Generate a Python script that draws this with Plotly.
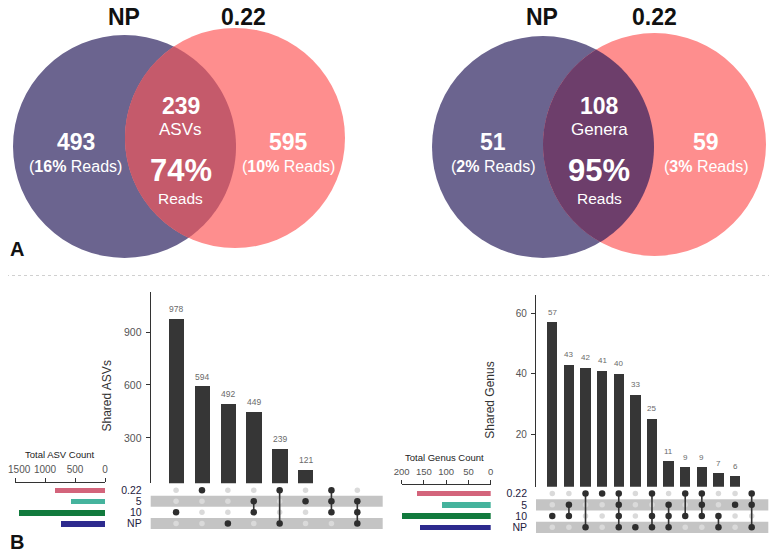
import numpy as np
import plotly.graph_objects as go

W, H = 777, 551
OFF = 8  # page body margin compensation
FONT = "Liberation Sans, Arial, sans-serif"

# ---------------- DATA ----------------
venn_sets = ["NP", "0.22"]
asv_counts = [493, 239, 595]          # NP only, shared, 0.22 only
asv_reads = ["16%", "74%", "10%"]
genus_counts = [51, 108, 59]
genus_reads = ["2%", "95%", "3%"]

set_names = ["0.22", "5", "10", "NP"]
asv_set_sizes = [834, 572, 1429, 732]
asv_size_ticks = [0, 500, 1000, 1500]
asv_inter_values = [978, 594, 492, 449, 239, 121, 1, 1]
asv_inter_members = [["10"], ["0.22"], ["NP"], ["5", "10"], ["0.22", "NP"], ["5"],
                     ["0.22", "5", "10"], ["5", "10", "NP"]]

genus_set_sizes = [167, 110, 201, 159]
genus_size_ticks = [0, 50, 100, 150, 200]
genus_inter_values = [57, 43, 42, 41, 40, 33, 25, 11, 9, 9, 7, 6, 1]
genus_inter_members = [["10"], ["5", "10"], ["0.22", "NP"], ["0.22"],
                       ["0.22", "5", "10", "NP"], ["NP"], ["0.22", "10", "NP"],
                       ["5", "10", "NP"], ["0.22", "10"], ["0.22", "5", "10"],
                       ["10", "NP"], ["5"], ["0.22", "5", "NP"]]

set_colors = ["#d3647b", "#45b39d", "#117a3d", "#2d2a8e"]
NP_COL = "#6b648f"
PINK_COL = "#fe8e8e"


def fx(px):
    return (px - OFF) / W


def fy(py):
    return 1 - (py - OFF) / H


fig = go.Figure()
shapes = []
annotations = []


def ann(**kw):
    kw.setdefault("showarrow", False)
    kw.setdefault("xanchor", "center")
    kw.setdefault("yanchor", "middle")
    annotations.append(kw)


# ---------------- VENN (pixel axis x9/y9) ----------------
def lens_path(c1, r1, c2, r2, n=60):
    (x1, y1), (x2, y2) = c1, c2
    d = np.hypot(x2 - x1, y2 - y1)
    a = (r1**2 - r2**2 + d**2) / (2 * d)
    h = np.sqrt(r1**2 - a**2)
    ux, uy = (x2 - x1) / d, (y2 - y1) / d
    mx, my = x1 + a * ux, y1 + a * uy
    p1 = (mx - h * uy, my + h * ux)
    p2 = (mx + h * uy, my - h * ux)

    def arc(cx, cy, r, pa, pb, toward):
        t1 = np.arctan2(pa[1] - cy, pa[0] - cx)
        t2 = np.arctan2(pb[1] - cy, pb[0] - cx)
        tm = np.arctan2(toward[1] - cy, toward[0] - cx)
        dt = (t2 - t1) % (2 * np.pi)
        if ((tm - t1) % (2 * np.pi)) > dt:
            dt = -((t1 - t2) % (2 * np.pi))
        ts = t1 + np.linspace(0, dt, n)
        return [(cx + r * np.cos(t), cy + r * np.sin(t)) for t in ts]

    pts = arc(x1, y1, r1, p1, p2, (x2, y2)) + arc(x2, y2, r2, p2, p1, (x1, y1))
    return "M " + " L ".join(f"{x:.2f},{y:.2f}" for x, y in pts) + " Z"


def venn(cnp, rnp, cpk, rpk, overlap_col, counts, reads, mid_label, headers_x, pos):
    shapes.append(dict(type="circle", xref="x9", yref="y9", x0=cnp[0] - rnp, x1=cnp[0] + rnp,
                       y0=cnp[1] - rnp, y1=cnp[1] + rnp, fillcolor=NP_COL, line=dict(width=0),
                       layer="below"))
    shapes.append(dict(type="circle", xref="x9", yref="y9", x0=cpk[0] - rpk, x1=cpk[0] + rpk,
                       y0=cpk[1] - rpk, y1=cpk[1] + rpk, fillcolor=PINK_COL, line=dict(width=0),
                       layer="below"))
    shapes.append(dict(type="path", xref="x9", yref="y9", path=lens_path(cnp, rnp, cpk, rpk),
                       fillcolor=overlap_col, line=dict(width=0), layer="below"))
    for name, hx in zip(venn_sets, headers_x):
        ann(x=hx, y=17, xref="x9", yref="y9", text=f"<b>{name}</b>",
            font=dict(size=23, color="#111"))
    (lx, rx, mx) = pos
    ann(x=lx, y=142, xref="x9", yref="y9", text=f"<b>{counts[0]}</b>",
        font=dict(size=23, color="white"))
    ann(x=lx, y=166, xref="x9", yref="y9", text=f"(<b>{reads[0]}</b> Reads)",
        font=dict(size=16, color="white"))
    ann(x=rx, y=142, xref="x9", yref="y9", text=f"<b>{counts[2]}</b>",
        font=dict(size=23, color="white"))
    ann(x=rx, y=166, xref="x9", yref="y9", text=f"(<b>{reads[2]}</b> Reads)",
        font=dict(size=16, color="white"))
    ann(x=mx, y=106, xref="x9", yref="y9", text=f"<b>{counts[1]}</b>",
        font=dict(size=23, color="white"))
    ann(x=mx, y=129, xref="x9", yref="y9", text=mid_label, font=dict(size=17, color="white"))
    ann(x=mx, y=170, xref="x9", yref="y9", text=f"<b>{reads[1]}</b>",
        font=dict(size=31, color="white"))
    ann(x=mx, y=198, xref="x9", yref="y9", text="Reads", font=dict(size=15.5, color="white"))


venn((124.5, 146.5), 111.5, (235, 138), 110, "#c55a6b", asv_counts, asv_reads, "ASVs",
     (123.5, 243.5), (75.5, 288, 180.5))
venn((543, 147), 111, (654.5, 144.5), 111.5, "#6d3e6b", genus_counts, genus_reads, "Genera",
     (541.5, 654.5), (492.5, 705.5, 599))

ann(x=17, y=249, xref="x9", yref="y9", text="<b>A</b>", font=dict(size=20, color="#111"))
ann(x=17, y=542, xref="x9", yref="y9", text="<b>B</b>", font=dict(size=20, color="#111"))
shapes.append(dict(type="line", xref="x9", yref="y9", x0=0, x1=W + OFF, y0=275.5, y1=275.5,
                   line=dict(color="#d0d0d0", width=1, dash="dot")))

fig.add_trace(go.Scatter(x=[OFF + 1], y=[OFF + 1], xaxis="x9", yaxis="y9", mode="markers",
                         marker=dict(opacity=0), hoverinfo="skip", showlegend=False))


# ---------------- UPSET ----------------
def upset(idx, values, members, sizes, bar_dom, bar_rng, col_dom, xrng, mat_dom, bar_w,
          yticks, ytickfont, size_dom, size_rng, size_ticks, size_ticktext, size_line_y,
          size_tickfont, size_title, size_title_xy, ytitle, ytitle_xy, lab_font, lab_shift):
    xb, yb = f"x{idx}", f"y{idx}"
    xm, ym = f"x{idx+1}", f"y{idx+1}"
    xs, ys = f"x{idx+2}", f"y{idx+2}"
    n = len(values)
    cols = list(range(n))
    fig.add_trace(go.Bar(x=cols, y=values, xaxis=xb, yaxis=yb, marker=dict(color="#363636",
                         line=dict(width=0)), width=bar_w, showlegend=False, hoverinfo="skip"))
    for c, v in zip(cols, values):
        ann(x=c, y=v, xref=xb, yref=yb, text=str(v), yshift=lab_shift,
            font=dict(size=lab_font, color="#6a6a6a"))
    ridx = {s: i for i, s in enumerate(set_names)}
    for r in (1, 3):
        shapes.append(dict(type="rect", xref=f"{xm} domain", yref=ym, x0=0, x1=1,
                           y0=r - 0.5, y1=r + 0.5, fillcolor="#c4c4c4", line=dict(width=0),
                           layer="below"))
    gx, gy, bx, by = [], [], [], []
    lx, ly = [], []
    for c, mem in enumerate(members):
        rows = sorted(ridx[m] for m in mem)
        for r in range(len(set_names)):
            if r in rows:
                bx.append(c); by.append(r)
            else:
                gx.append(c); gy.append(r)
        if len(rows) > 1:
            lx += [c, c, None]; ly += [rows[0], rows[-1], None]
    fig.add_trace(go.Scatter(x=gx, y=gy, xaxis=xm, yaxis=ym, mode="markers",
                             marker=dict(color="#dadada", size=5.5), showlegend=False,
                             hoverinfo="skip"))
    fig.add_trace(go.Scatter(x=lx, y=ly, xaxis=xm, yaxis=ym, mode="lines",
                             line=dict(color="#333333", width=1.6), showlegend=False,
                             hoverinfo="skip"))
    fig.add_trace(go.Scatter(x=bx, y=by, xaxis=xm, yaxis=ym, mode="markers",
                             marker=dict(color="#2e2e2e", size=6.5), showlegend=False,
                             hoverinfo="skip"))
    fig.add_trace(go.Bar(x=sizes, y=list(range(len(set_names))), orientation="h", xaxis=xs,
                         yaxis=ys, marker=dict(color=set_colors, line=dict(width=0)),
                         width=0.5, showlegend=False, hoverinfo="skip"))

    lay = {}
    lay[f"xaxis{idx}"] = dict(domain=[fx(col_dom[0]), fx(col_dom[1])], range=xrng,
                              anchor=yb, visible=False, automargin=False)
    lay[f"yaxis{idx}"] = dict(domain=[fy(bar_dom[1]), fy(bar_dom[0])], range=bar_rng,
                              anchor=xb, showline=True, linecolor="#333", linewidth=1.2,
                              ticks="outside", ticklen=4, tickcolor="#333", tickvals=yticks,
                              tickfont=dict(size=ytickfont, color="#555"), showgrid=False,
                              zeroline=False, ticklabelstandoff=2, automargin=False)
    lay[f"xaxis{idx+1}"] = dict(domain=[fx(col_dom[0]), fx(col_dom[1])], range=xrng,
                                anchor=ym, visible=False, automargin=False)
    lay[f"yaxis{idx+1}"] = dict(domain=[fy(mat_dom[1]), fy(mat_dom[0])], range=[3.5, -0.5],
                                anchor=xm, tickvals=[0, 1, 2, 3], ticktext=set_names,
                                tickfont=dict(size=10.5, color="#1e2140"), showgrid=False,
                                zeroline=False, showline=False, ticks="",
                                ticklabelstandoff=8, automargin=False)
    lay[f"xaxis{idx+2}"] = dict(domain=[fx(size_dom[0]), fx(size_dom[1])], range=size_rng,
                                anchor="free", position=fy(size_line_y), side="top",
                                showline=True, linecolor="#333", linewidth=1, ticks="outside",
                                ticklen=4, tickcolor="#333", tickvals=size_ticks,
                                ticktext=size_ticktext,
                                tickfont=dict(size=size_tickfont, color="#555"),
                                showgrid=False, zeroline=False, ticklabelstandoff=1,
                                automargin=False, ticklabeloverflow="allow")
    lay[f"yaxis{idx+2}"] = dict(domain=[fy(mat_dom[1]), fy(mat_dom[0])], range=[3.5, -0.5],
                                anchor=xs, visible=False, automargin=False)
    fig.update_layout(**lay)
    ann(x=fx(size_title_xy[0]), y=fy(size_title_xy[1]), xref="paper", yref="paper",
        text=size_title, font=dict(size=9.5, color="#222"))
    ann(x=fx(ytitle_xy[0]), y=fy(ytitle_xy[1]), xref="paper", yref="paper", text=ytitle,
        textangle=-90, font=dict(size=12, color="#333"))


# leftmost label padded with non-breaking spaces so it is not clipped at the page edge
asv_tick_text = [str(t) for t in asv_size_ticks]
asv_tick_text[-1] = "\u00a0\u00a0\u00a0" + asv_tick_text[-1]

upset(1, asv_inter_values, asv_inter_members, asv_set_sizes,
      bar_dom=(291.7, 483.3), bar_rng=[42, 1129], col_dom=(150.7, 382.7), xrng=[-0.98, 7.98],
      mat_dom=(484.6, 529), bar_w=0.59, yticks=[300, 600, 900], ytickfont=10.5,
      size_dom=(15, 105), size_rng=[1500, 0], size_ticks=asv_size_ticks,
      size_ticktext=asv_tick_text, size_line_y=481.7, size_tickfont=10,
      size_title="Total ASV Count", size_title_xy=(60, 454.3), ytitle="Shared ASVs",
      ytitle_xy=(106.7, 395.8), lab_font=8.5, lab_shift=9.5)

upset(4, genus_inter_values, genus_inter_members, genus_set_sizes,
      bar_dom=(295, 486.7), bar_rng=[2.52, 66.1], col_dom=(536, 768.3), xrng=[-0.98, 13.0],
      mat_dom=(488, 533), bar_w=0.62, yticks=[20, 40, 60], ytickfont=10,
      size_dom=(401.7, 490.7), size_rng=[200, 0], size_ticks=genus_size_ticks,
      size_ticktext=[str(t) for t in genus_size_ticks], size_line_y=484, size_tickfont=9.5,
      size_title="Total Genus Count", size_title_xy=(445, 457.3), ytitle="Shared Genus",
      ytitle_xy=(490, 399.7), lab_font=8, lab_shift=10)

fig.update_layout(
    xaxis9=dict(domain=[0, 1], range=[OFF, W + OFF], visible=False, anchor="y9",
                automargin=False),
    yaxis9=dict(domain=[0, 1], range=[H + OFF, OFF], visible=False, anchor="x9",
                automargin=False),
)

fig.update_layout(width=W, height=H,
                  margin=dict(l=0, r=0, t=0, b=0, pad=0, autoexpand=False),
                  paper_bgcolor="white", plot_bgcolor="rgba(0,0,0,0)",
                  font=dict(family=FONT), shapes=shapes, annotations=annotations,
                  bargap=0, showlegend=False)

fig.write_html("out.html")
